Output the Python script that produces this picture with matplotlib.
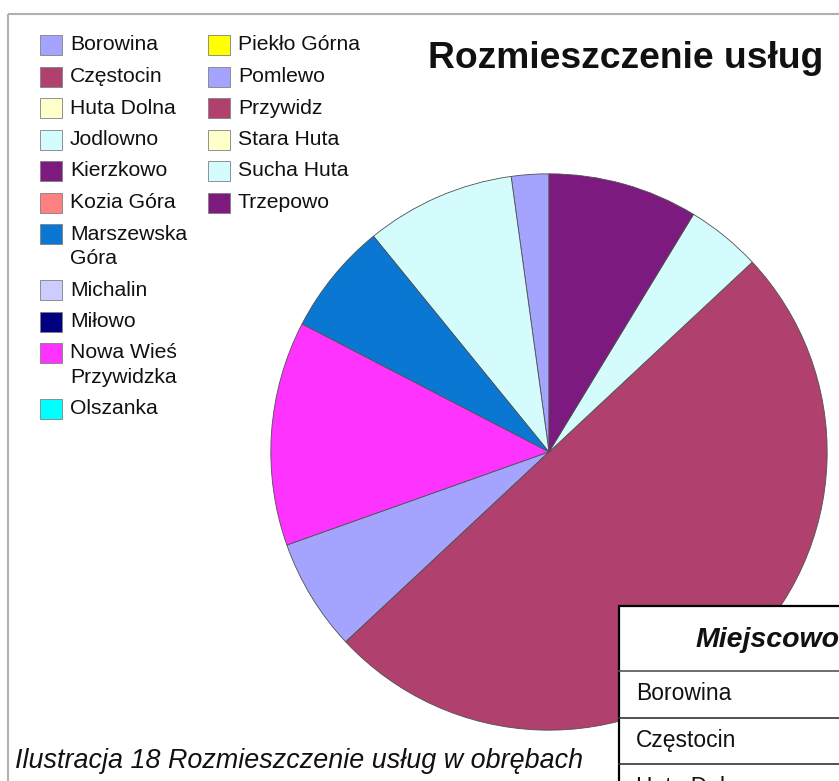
import textwrap

import matplotlib

matplotlib.use("Agg")

import matplotlib.pyplot as plt
from matplotlib.patches import Rectangle

# Data: number of services per locality (legend order)
names = [
    "Borowina", "Częstocin", "Huta Dolna", "Jodlowno", "Kierzkowo",
    "Kozia Góra", "Marszewska Góra", "Michalin", "Miłowo",
    "Nowa Wieś Przywidzka", "Olszanka", "Piekło Górna", "Pomlewo",
    "Przywidz", "Stara Huta", "Sucha Huta", "Trzepowo",
]
counts = [1, 0, 0, 4, 0, 0, 3, 0, 0, 6, 0, 0, 3, 23, 0, 2, 4]
palette = [
    "#a4a4ff", "#b0406e", "#ffffcc", "#d4fcfc", "#7d1a80", "#ff8080",
    "#0a78d2", "#ccccff", "#000080", "#ff33ff", "#00ffff", "#ffff00",
]
colors = [palette[i % len(palette)] for i in range(len(names))]

title = "Rozmieszczenie usług"
caption = "Ilustracja 18 Rozmieszczenie usług w obrębach"
table_header = "Miejscowość"
table_rows = ["Borowina", "Częstocin", "Huta Dolna"]

W, H = 839, 781
plt.rcParams["font.family"] = ["Liberation Sans", "DejaVu Sans"]
fig = plt.figure(figsize=(W / 100, H / 100), dpi=100)
fig.patch.set_facecolor("white")

# Pie (zero entries only appear in the legend)
cx, cy, r = 549, 452, 279
ax = fig.add_axes([(cx - r) / W, (H - cy - r) / H, 2 * r / W, 2 * r / H])
vals = [v for v in counts if v > 0]
cols = [c for c, v in zip(colors, counts) if v > 0]
ax.pie(vals, colors=cols, startangle=90, counterclock=True, radius=1,
       wedgeprops=dict(edgecolor="#505050", linewidth=0.6))
ax.set_xlim(-1.003, 1.003)
ax.set_ylim(-1.003, 1.003)
ax.set_aspect("equal")
ax.axis("off")

# Overlay in pixel coordinates for frame, legend, title, table, caption
ov = fig.add_axes([0, 0, 1, 1], zorder=10)
ov.set_xlim(0, W)
ov.set_ylim(H, 0)
ov.axis("off")
ov.patch.set_alpha(0)

ov.plot([8, W + 5], [14, 14], color="#b0b0b0", lw=1.5, solid_capstyle="butt")
ov.plot([8, 8], [14, H + 5], color="#b0b0b0", lw=1.5, solid_capstyle="butt")

# Legend: two columns
row_step, line_step = 31.5, 24.5
columns = [(range(0, 11), 40, 70, 12), (range(11, 17), 208, 238, 20)]
for idx, sx, tx, wrap in columns:
    y = 45
    for i in idx:
        lines = textwrap.wrap(names[i], wrap)
        ov.add_patch(Rectangle((sx, y - 10), 22, 20, facecolor=colors[i],
                               edgecolor="#808080", lw=0.6))
        for k, line in enumerate(lines):
            ov.text(tx, y + k * line_step, line, fontsize=15.2, va="center",
                    ha="left", color="#111111")
        y += row_step + line_step * (len(lines) - 1)

ov.text(428, 68, title, fontsize=26.8, fontweight="bold", ha="left",
        va="baseline", color="#111111")

# Table overlapping the chart (cut by the right edge, as in the page crop)
ov.add_patch(Rectangle((619, 606), 400, 300, facecolor="white",
                       edgecolor="black", lw=1.6))
ov.plot([619, W + 5], [671, 671], color="#555555", lw=1.2)
for yl in [718, 764]:
    ov.plot([619, W + 5], [yl, yl], color="#333333", lw=1.2)
ov.text(696, 640, table_header, fontsize=20.5, fontweight="bold",
        fontstyle="italic", ha="left", va="center", color="#111111",
        clip_on=True)
for k, row in enumerate(table_rows):
    ov.text(636, 694 + k * 47, row, fontsize=16.5, ha="left", va="center",
            color="#111111", clip_on=True)

ov.text(15, 768, caption, fontsize=19.4, fontstyle="italic", ha="left",
        va="baseline", color="#111111")

fig.savefig("out.png", dpi=100)
